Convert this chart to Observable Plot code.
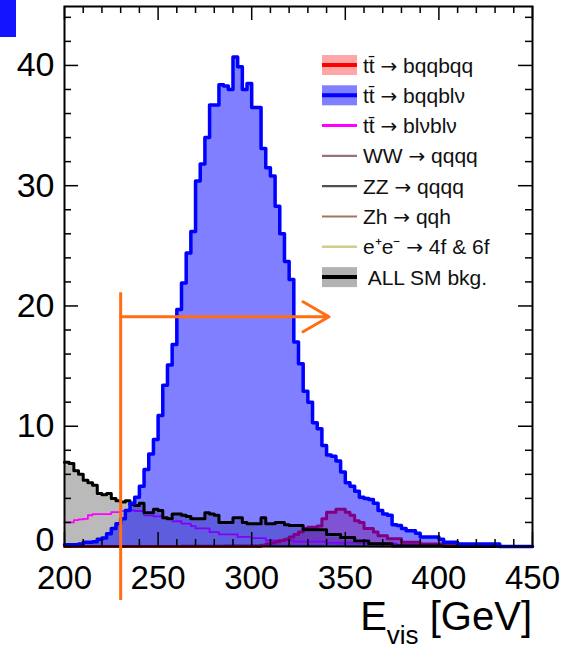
<!DOCTYPE html>
<html>
<head>
<meta charset="utf-8">
<script src="https://cdn.jsdelivr.net/npm/d3@7"></script>
<script src="https://cdn.jsdelivr.net/npm/@observablehq/plot@0.6"></script>
<style>
  body { margin: 0; background: #fff; }
  #wrap { position: relative; width: 562px; height: 653px; overflow: hidden; }
  #wrap svg { position: absolute; left: 0; top: 0; }
  #corner { position: absolute; left: 0; top: 0; width: 16px; height: 37px; background: #1414ff; z-index: 2; }
</style>
</head>
<body>
<div id="wrap"><div id="corner"></div></div>
<script>
// ---- binning / axes ----
const binStart = 200;
const binWidth = 2.5;
const xDomain = [200, 450];
const yDomain = [0, 44.9];
const xMajor = [200, 250, 300, 350, 400, 450];
const xMinor = [210, 220, 230, 240, 260, 270, 280, 290, 310, 320, 330, 340, 360, 370, 380, 390, 410, 420, 430, 440];
const yMajor = [0, 10, 20, 30, 40];
const yMinor = [2, 4, 6, 8, 12, 14, 16, 18, 22, 24, 26, 28, 32, 34, 36, 38, 42, 44];

// ---- series (events per 2.5 GeV bin, 200 -> 450 GeV) ----
const ttBqqblv = [
  0.15, 0.15, 0.15, 0.2, 0.35, 0.35, 0.4, 0.6, 0.7, 1.05,
  1.5, 1.9, 2.3, 3.0, 3.6, 4.1, 5.0, 6.4, 7.7, 8.9,
  10.9, 13.4, 15.1, 16.8, 19.7, 21.9, 24.4, 26.2, 30.4, 31.8,
  34.0, 36.7, 36.7, 38.4, 38.3, 38.0, 40.7, 39.9, 38.0, 38.5,
  36.5, 36.5, 33.1, 31.5, 30.8, 28.3, 26.0, 23.7, 22.2, 17.0,
  15.2, 12.9, 12.0, 10.3, 9.8, 8.4, 7.6, 7.5, 7.1, 6.2,
  5.3, 5.0, 4.6, 4.1, 4.0, 3.9, 3.6, 3.0, 2.7, 2.6,
  1.8, 1.75, 1.5, 1.3, 1.3, 1.1, 0.8, 0.8, 0.8, 0.8,
  0.6, 0.35, 0.35, 0.35, 0.2, 0.2, 0.2, 0.2, 0.2, 0.2,
  0.2, 0.2, 0.2, 0, 0, 0, 0, 0, 0, 0
];
const allSMbkg = [
  7.0, 6.9, 6.3, 6.0, 5.5, 5.3, 5.1, 4.4, 4.3, 4.4,
  4.0, 3.8, 3.7, 3.8, 3.5, 3.4, 3.6, 2.8, 2.8, 3.1,
  3.0, 2.4, 2.3, 2.7, 2.7, 2.6, 2.5, 2.3, 2.3, 2.3,
  2.8, 2.7, 2.6, 2.0, 2.0, 2.0, 2.4, 2.4, 2.0, 1.9,
  1.9, 1.9, 2.4, 1.9, 1.9, 2.0, 2.0, 1.8, 1.75, 1.75,
  1.75, 1.4, 1.4, 1.4, 1.4, 1.4, 1.0, 1.0, 1.0, 0.75,
  0.75, 0.75, 0.45, 0.45, 0.45, 0.22, 0.22, 0.22, 0.22, 0.22,
  0.05, 0.05, 0.05, 0.05, 0.05, 0.05, 0.05, 0.05, 0.05, 0.05,
  0.05, 0, 0, 0, 0, 0, 0, 0, 0, 0,
  0, 0, 0, 0, 0, 0, 0, 0, 0, 0
];
const ttBqqbqq = [
  0, 0, 0, 0, 0, 0, 0, 0, 0, 0,
  0, 0, 0, 0, 0, 0, 0, 0, 0, 0,
  0, 0, 0, 0, 0, 0, 0, 0, 0, 0,
  0, 0, 0, 0, 0, 0, 0, 0, 0, 0,
  0, 0, 0.1, 0.2, 0.3, 0.4, 0.5, 0.6, 0.8, 1.0,
  1.2, 1.5, 1.6, 1.6, 1.7, 2.3, 2.85, 2.85, 3.1, 3.1,
  2.85, 2.6, 2.15, 2.0, 1.5, 1.5, 1.2, 0.9, 0.9, 0.65,
  0.65, 0.65, 0.35, 0.35, 0.35, 0.35, 0.2, 0.2, 0.2, 0.2,
  0.2, 0.1, 0.1, 0.1, 0.1, 0.1, 0, 0, 0, 0,
  0, 0, 0, 0, 0, 0, 0, 0, 0, 0
];
const ttBlvblv = [
  2.0, 2.0, 2.2, 2.25, 2.3, 2.6, 2.7, 2.7, 2.7, 2.7,
  2.85, 2.85, 2.95, 2.95, 3.0, 2.95, 2.95, 2.6, 2.6, 2.5,
  2.5, 2.3, 2.3, 2.1, 2.1, 1.9, 1.9, 1.7, 1.5, 1.5,
  1.5, 1.2, 1.2, 1.0, 1.0, 1.0, 1.0, 0.8, 0.8, 0.8,
  0.7, 0.7, 0.7, 0.5, 0.5, 0.5, 0.5, 0.5, 0.5, 0.4,
  0.4, 0.4, 0.4, 0.4, 0.4, 0.4, 0.3, 0.3, 0.3, 0.3,
  0.3, 0.3, 0.3, 0.25, 0.25, 0.25, 0.25, 0.25, 0.25, 0.25,
  0.25, 0.15, 0.15, 0.15, 0.15, 0.15, 0.15, 0.15, 0.15, 0.1,
  0.1, 0.1, 0.1, 0.1, 0.1, 0.1, 0, 0, 0, 0,
  0, 0, 0, 0, 0, 0, 0, 0, 0, 0
];
const wwQqqq = [
  0, 0, 0, 0, 0, 0, 0, 0, 0, 0,
  0, 0, 0, 0, 0, 0, 0, 0, 0, 0.05,
  0.05, 0.05, 0.05, 0.05, 0.05, 0.1, 0.1, 0.1, 0.1, 0.1,
  0.1, 0.1, 0.1, 0.1, 0.15, 0.15, 0.15, 0.15, 0.15, 0.15,
  0.15, 0.15, 0.15, 0.15, 0.15, 0.15, 0.1, 0.1, 0.1, 0.1,
  0.1, 0.1, 0.1, 0.1, 0.1, 0.05, 0.05, 0.05, 0.05, 0.05,
  0.05, 0.05, 0.05, 0.05, 0.05, 0, 0, 0, 0, 0,
  0, 0, 0, 0, 0, 0, 0, 0, 0, 0,
  0, 0, 0, 0, 0, 0, 0, 0, 0, 0,
  0, 0, 0, 0, 0, 0, 0, 0, 0, 0
];
const zzQqqq = [
  0, 0, 0, 0, 0, 0, 0, 0, 0, 0,
  0, 0, 0, 0, 0, 0, 0, 0, 0, 0,
  0.05, 0.05, 0.05, 0.05, 0.05, 0.05, 0.05, 0.05, 0.05, 0.05,
  0.05, 0.05, 0.05, 0.05, 0.05, 0.05, 0.05, 0.05, 0.05, 0.05,
  0.05, 0.05, 0.05, 0.05, 0.05, 0.05, 0.05, 0.05, 0.05, 0.05,
  0.05, 0.05, 0.05, 0.05, 0.05, 0.05, 0.05, 0.05, 0.05, 0.05,
  0, 0, 0, 0, 0, 0, 0, 0, 0, 0,
  0, 0, 0, 0, 0, 0, 0, 0, 0, 0,
  0, 0, 0, 0, 0, 0, 0, 0, 0, 0,
  0, 0, 0, 0, 0, 0, 0, 0, 0, 0
];
const zhQqh = [
  0, 0, 0, 0, 0, 0, 0, 0, 0, 0,
  0, 0, 0, 0, 0, 0, 0, 0, 0, 0,
  0, 0, 0, 0, 0, 0, 0, 0, 0, 0,
  0, 0, 0, 0, 0, 0, 0, 0, 0, 0,
  0, 0, 0, 0, 0, 0, 0, 0, 0, 0,
  0, 0, 0, 0, 0, 0.05, 0.1, 0.1, 0.15, 0.15,
  0.2, 0.2, 0.15, 0.15, 0.1, 0.1, 0.05, 0, 0, 0,
  0, 0, 0, 0, 0, 0, 0, 0, 0, 0,
  0, 0, 0, 0, 0, 0, 0, 0, 0, 0,
  0, 0, 0, 0, 0, 0, 0, 0, 0, 0
];
const ee4f6f = [
  6.9, 6.8, 6.2, 5.9, 5.4, 5.2, 5.0, 4.3, 4.2, 4.3,
  3.9, 3.7, 3.6, 3.7, 3.4, 3.3, 3.5, 2.7, 2.7, 3.0,
  2.9, 2.3, 2.2, 2.6, 2.6, 2.5, 2.4, 2.2, 2.2, 2.2,
  2.7, 2.6, 2.5, 1.9, 1.9, 1.9, 2.3, 2.3, 1.9, 1.8,
  1.8, 1.8, 2.3, 1.8, 1.8, 1.9, 1.9, 1.7, 1.65, 1.65,
  1.65, 1.3, 1.3, 1.3, 1.3, 1.3, 0.9, 0.9, 0.9, 0.65,
  0.65, 0.65, 0.35, 0.35, 0.35, 0.15, 0.15, 0.15, 0.15, 0.15,
  0, 0, 0, 0, 0, 0, 0, 0, 0, 0,
  0, 0, 0, 0, 0, 0, 0, 0, 0, 0,
  0, 0, 0, 0, 0, 0, 0, 0, 0, 0
];

// ---- cut annotation ----
const cutValue = 230;       // GeV
const cutLineTop = 21.1;
const cutLineBottom = -4.5;
const arrowLevel = 19.1;
const arrowEnd = 341.3;     // GeV

// ---- legend ----
const legendLabels = [
  "tt\u0304 \u2192 bqqbqq",
  "tt\u0304 \u2192 bqqbl\u03bd",
  "tt\u0304 \u2192 bl\u03bdbl\u03bd",
  "WW \u2192 qqqq",
  "ZZ \u2192 qqqq",
  "Zh \u2192 qqh",
  "e\u207ae\u207b \u2192 4f & 6f",
  " ALL SM bkg."
];
const legendStroke = ["#ff0000", "#0000ff", "#ff00ff", "#9c6f7c", "#505050", "#a07660", "#d4cb8c", "#000000"];
const legendFill = ["rgba(255,0,0,0.35)", "rgba(0,0,255,0.5)", null, null, null, null, null, "rgba(0,0,0,0.3)"];
const legendWidth = [4, 4, 3, 2.2, 2.2, 2.2, 2.5, 4];

// ---- helpers ----
function steps(values) {
  const pts = values.map((v, i) => ({x: binStart + i * binWidth, y: v}));
  pts.push({x: binStart + values.length * binWidth, y: values[values.length - 1]});
  return pts;
}

const W = 562, H = 653;
const mL = 64, mR = 30, mT = 6, mB = 107;
const innerW = W - mL - mR, innerH = H - mT - mB;
const orange = "#ff6e14";
const font = "'Liberation Sans', Arial, Helvetica, sans-serif";

const hist = {x: "x", y: "y", curve: "step-after"};

const chart = Plot.plot({
  width: W,
  height: H,
  marginLeft: mL,
  marginRight: mR,
  marginTop: mT,
  marginBottom: mB,
  x: {domain: xDomain},
  y: {domain: yDomain},
  style: {fontFamily: font, background: "transparent", color: "#000"},
  marks: [
    Plot.areaY(steps(allSMbkg), {...hist, fill: "#000", fillOpacity: 0.27}),
    Plot.areaY(steps(ttBqqbqq), {...hist, fill: "#ff0000", fillOpacity: 0.35}),
    Plot.lineY(steps(ttBlvblv), {...hist, stroke: "#ff00ff", strokeWidth: 1.8}),
    Plot.lineY(steps(wwQqqq), {...hist, stroke: "#9c6f7c", strokeWidth: 1.5}),
    Plot.lineY(steps(zzQqqq), {...hist, stroke: "#505050", strokeWidth: 1.5}),
    Plot.lineY(steps(zhQqh), {...hist, stroke: "#a07660", strokeWidth: 1.5}),
    Plot.lineY(steps(ee4f6f), {...hist, stroke: "#d4cb8c", strokeWidth: 1.5}),
    Plot.lineY(steps(ttBqqbqq), {...hist, stroke: "#ff0000", strokeWidth: 3}),
    Plot.areaY(steps(ttBqqblv), {...hist, fill: "#0000ff", fillOpacity: 0.5}),
    Plot.lineY(steps(allSMbkg), {...hist, stroke: "#000", strokeWidth: 3}),
    Plot.lineY(steps(ttBqqblv), {...hist, stroke: "#0000ff", strokeWidth: 3.5}),

    // inward ticks on all four sides
    Plot.tickX(xMinor, {x: d => d, insetTop: innerH - 7, stroke: "#000", strokeWidth: 1.5}),
    Plot.tickX(xMajor, {x: d => d, insetTop: innerH - 14, stroke: "#000", strokeWidth: 1.5}),
    Plot.tickX(xMinor, {x: d => d, insetBottom: innerH - 7, stroke: "#000", strokeWidth: 1.5}),
    Plot.tickX(xMajor, {x: d => d, insetBottom: innerH - 14, stroke: "#000", strokeWidth: 1.5}),
    Plot.tickY(yMinor, {y: d => d, insetRight: innerW - 7, stroke: "#000", strokeWidth: 1.5}),
    Plot.tickY(yMajor, {y: d => d, insetRight: innerW - 14, stroke: "#000", strokeWidth: 1.5}),
    Plot.tickY(yMinor, {y: d => d, insetLeft: innerW - 7, stroke: "#000", strokeWidth: 1.5}),
    Plot.tickY(yMajor, {y: d => d, insetLeft: innerW - 14, stroke: "#000", strokeWidth: 1.5}),
    Plot.frame({stroke: "#000", strokeWidth: 2}),

    Plot.axisX(xMajor, {anchor: "bottom", tickSize: 0, tickPadding: 19, fontSize: 33, label: null, tickFormat: d => String(d)}),
    Plot.axisY(yMajor.slice(1), {anchor: "left", tickSize: 0, tickPadding: 10, fontSize: 34, label: null, tickFormat: d => String(d)}),
    Plot.axisY(yMajor.slice(0, 1), {anchor: "left", tickSize: 0, tickPadding: 10, fontSize: 34, dy: -6, label: null, tickFormat: d => String(d)}),

    // selection cut and arrow
    Plot.ruleX([{x: cutValue, y1: cutLineBottom, y2: cutLineTop}], {x: "x", y1: "y1", y2: "y2", stroke: orange, strokeWidth: 3}),
    Plot.arrow([{x1: cutValue, x2: arrowEnd, y: arrowLevel}], {x1: "x1", x2: "x2", y1: "y", y2: "y", stroke: orange, strokeWidth: 3, headLength: 15, headAngle: 60})
  ]
});

document.getElementById("wrap").appendChild(chart);

// ---- legend (inside the frame, top right) ----
const svg = d3.select(chart);
const leg = svg.append("g").attr("font-family", font).attr("font-size", 21).attr("fill", "#111")
  .attr("text-anchor", "start");
const rowY0 = 65, rowStep = 30.3, symX0 = 322, symX1 = 357, textX = 363;
legendLabels.forEach((label, i) => {
  const cy = rowY0 + i * rowStep;
  if (legendFill[i]) {
    leg.append("rect").attr("x", symX0).attr("y", cy - 10).attr("width", symX1 - symX0).attr("height", 20)
      .attr("fill", legendFill[i]);
  }
  leg.append("line").attr("x1", symX0).attr("x2", symX1).attr("y1", cy).attr("y2", cy)
    .attr("stroke", legendStroke[i]).attr("stroke-width", legendWidth[i]);
  const t = leg.append("text").attr("x", textX).attr("y", cy).attr("dy", "0.36em")
    .attr("text-anchor", "start").style("white-space", "pre");
  label.split(/(\u2192)/).forEach(part => {
    const s = t.append("tspan").text(part);
    if (part === "\u2192") s.attr("font-family", "'DejaVu Sans', sans-serif").attr("font-size", 20);
  });
});

// ---- x-axis title ----
const title = svg.append("text").attr("font-family", font).attr("fill", "#000")
  .attr("x", W - mR).attr("y", 630).attr("text-anchor", "end");
title.append("tspan").attr("font-size", 40).text("E");
title.append("tspan").attr("font-size", 26).attr("dy", 14).text("vis");
title.append("tspan").attr("font-size", 40).attr("dy", -14).style("white-space", "pre").text(" [GeV]");
</script>
</body>
</html>
